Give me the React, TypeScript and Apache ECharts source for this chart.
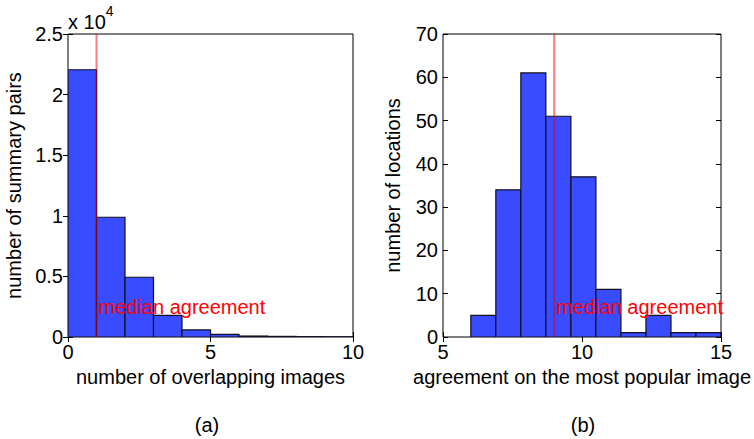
import React, { useEffect, useRef } from "react";
import * as echarts from "echarts";

// Panel (a): pairs of summaries by number of overlapping images
const overlapBinEdges = [0, 1, 2, 3, 4, 5, 6, 7, 8, 9, 10];
const overlapCounts = [22050, 9880, 4930, 1790, 580, 220, 80, 50, 30, 20];
const overlapMedian = 1;
const overlapTickLabels = ["0", "0.5", "1", "1.5", "2", "2.5"];

// Panel (b): locations by agreement on the most popular image
const agreementBinEdges = [6, 6.9, 7.8, 8.7, 9.6, 10.5, 11.4, 12.3, 13.2, 14.1, 15];
const agreementCounts = [5, 34, 61, 51, 37, 11, 1, 5, 1, 1];
const agreementMedian = 9;

const FONT = "'Liberation Sans', Arial, Helvetica, sans-serif";
const BAR_FILL = "#3a4cff";
const BAR_EDGE = "#101020";
const MEDIAN_LINE = "rgba(235, 0, 0, 0.5)";

function histData(edges: number[], counts: number[]) {
  return counts.map((c, i) => [edges[i], edges[i + 1], c]);
}

function renderBin(params: any, api: any) {
  const top = api.coord([api.value(0), api.value(2)]);
  const bottom = api.coord([api.value(1), 0]);
  return {
    type: "rect",
    shape: { x: top[0], y: top[1], width: bottom[0] - top[0], height: bottom[1] - top[1] },
    style: { fill: BAR_FILL, stroke: BAR_EDGE, lineWidth: 1.2 },
  };
}

function valueAxes(gridIndex: number, min: number, max: number, interval: number, fmt?: (v: number) => string) {
  const tick = { show: true, inside: true, length: 5, lineStyle: { color: "#000", width: 1 } };
  const label = { show: true, color: "#000", fontSize: 20, fontFamily: FONT, margin: 5, formatter: fmt };
  return [
    {
      type: "value", gridIndex, min, max, interval,
      axisLine: { show: false }, axisTick: tick, axisLabel: label,
      splitLine: { show: false },
    },
    {
      type: "value", gridIndex, min, max, interval,
      axisLine: { show: false }, axisTick: tick, axisLabel: { show: false },
      splitLine: { show: false },
    },
  ];
}

const medianLabel = {
  show: true, position: "right", distance: 2, formatter: "median agreement",
  color: "#ff0000", opacity: 1, fontSize: 20, fontFamily: FONT,
};

export default function App() {
  const ref = useRef<HTMLDivElement>(null);

  useEffect(() => {
    if (!ref.current) return;
    const chart = echarts.init(ref.current, undefined, { renderer: "svg" });

    const [xa1, xa1Top] = valueAxes(0, 0, 10, 5);
    const [xa2, xa2Top] = valueAxes(1, 5, 15, 5);
    const [ya1, ya1Right] = valueAxes(0, 0, 25000, 5000, (v: number) => overlapTickLabels[Math.round(v / 5000)]);
    const [ya2, ya2Right] = valueAxes(1, 0, 70, 10);

    const nameStyle = { color: "#000", fontSize: 20, fontFamily: FONT };

    const option: any = {
      animation: false,
      backgroundColor: "#fff",
      grid: [
        { left: 68, top: 34, width: 285, height: 303, show: true, borderColor: "#000", borderWidth: 1, backgroundColor: "transparent" },
        { left: 443, top: 34, width: 284, height: 303, show: true, borderColor: "#000", borderWidth: 1, backgroundColor: "transparent" },
      ],
      xAxis: [
        { ...xa1, position: "bottom", name: "number of overlapping images", nameLocation: "middle", nameGap: 30, nameTextStyle: nameStyle },
        { ...xa1Top, position: "top" },
        { ...xa2, position: "bottom", name: "agreement on the most popular image", nameLocation: "middle", nameGap: 30, nameTextStyle: nameStyle },
        { ...xa2Top, position: "top" },
      ],
      yAxis: [
        { ...ya1, position: "left", name: "number of summary pairs", nameLocation: "middle", nameGap: 44, nameTextStyle: nameStyle },
        { ...ya1Right, position: "right" },
        { ...ya2, position: "left", name: "number of locations", nameLocation: "middle", nameGap: 40, nameTextStyle: nameStyle },
        { ...ya2Right, position: "right" },
      ],
      series: [
        {
          type: "custom", xAxisIndex: 0, yAxisIndex: 0, clip: true,
          renderItem: renderBin, data: histData(overlapBinEdges, overlapCounts),
          encode: { x: [0, 1], y: 2 }, z: 2,
        },
        {
          type: "custom", xAxisIndex: 2, yAxisIndex: 2, clip: true,
          renderItem: renderBin, data: histData(agreementBinEdges, agreementCounts),
          encode: { x: [0, 1], y: 2 }, z: 2,
        },
        {
          type: "line", xAxisIndex: 0, yAxisIndex: 0, symbol: "none", z: 3,
          lineStyle: { color: MEDIAN_LINE, width: 2 },
          data: [[overlapMedian, 0], [overlapMedian, 25000]],
        },
        {
          type: "line", xAxisIndex: 2, yAxisIndex: 2, symbol: "none", z: 3,
          lineStyle: { color: MEDIAN_LINE, width: 2 },
          data: [[agreementMedian, 0], [agreementMedian, 70]],
        },
        {
          type: "scatter", xAxisIndex: 0, yAxisIndex: 0, symbolSize: 0, z: 4,
          itemStyle: { opacity: 1 },
          data: [[overlapMedian, 2480]],
          label: medianLabel,
        },
        {
          type: "scatter", xAxisIndex: 2, yAxisIndex: 2, symbolSize: 0, z: 4,
          itemStyle: { opacity: 1 },
          data: [[agreementMedian, 7]],
          label: medianLabel,
        },
      ],
      graphic: [
        {
          type: "text", left: 68, top: 4, z: 10,
          style: {
            text: "{b|x 10}{s|4}",
            rich: {
              b: { fontSize: 20, fontFamily: FONT, fill: "#000", verticalAlign: "bottom", lineHeight: 28 },
              s: { fontSize: 14, fontFamily: FONT, fill: "#000", verticalAlign: "top", lineHeight: 28, padding: [0, 0, 12, 0] },
            },
          },
        },
        {
          type: "text", x: 207, y: 425, z: 10,
          style: { text: "(a)", fontSize: 20, fontFamily: FONT, fill: "#000", align: "center", verticalAlign: "middle" },
        },
        {
          type: "text", x: 583, y: 425, z: 10,
          style: { text: "(b)", fontSize: 20, fontFamily: FONT, fill: "#000", align: "center", verticalAlign: "middle" },
        },
      ],
    };

    chart.setOption(option);
    return () => chart.dispose();
  }, []);

  return (
    <div
      ref={ref}
      style={{ position: "fixed", left: 0, top: 0, width: 754, height: 439, background: "#fff" }}
    />
  );
}
